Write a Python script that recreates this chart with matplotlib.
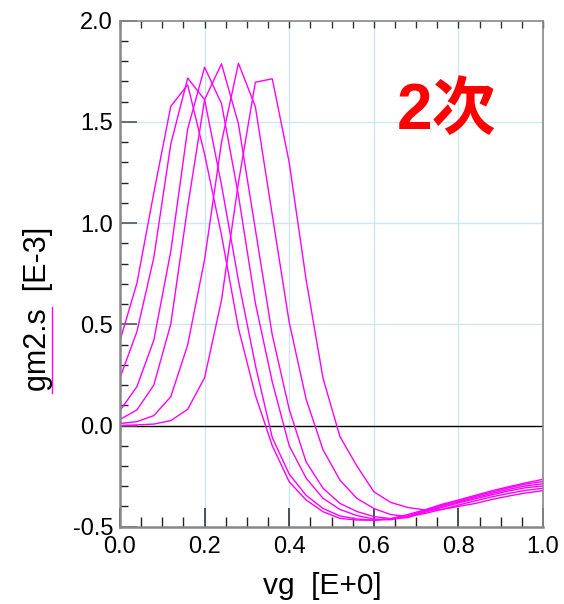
import matplotlib
matplotlib.use("Agg")
import matplotlib.pyplot as plt
from matplotlib.ticker import MultipleLocator
import numpy as np

# x grid of the simulation (vg)
vg = [0.00, 0.04, 0.08, 0.12, 0.16, 0.20, 0.24, 0.28, 0.32, 0.36, 0.40, 0.44, 0.48,
      0.52, 0.56, 0.60, 0.64, 0.68, 0.72, 0.76, 0.80, 0.84, 0.88, 0.92, 0.96, 1.00]

curve_a = [0.42, 0.703, 1.15, 1.577, 1.683, 1.34, 0.94, 0.48, 0.15, -0.10, -0.278, -0.368, -0.426,
           -0.459, -0.467, -0.468, -0.46, -0.44, -0.417, -0.39, -0.368, -0.345, -0.322, -0.302, -0.283, -0.266]
curve_b = [0.236, 0.464, 0.83, 1.39, 1.716, 1.61, 1.188, 0.716, 0.298, -0.06, -0.24, -0.345, -0.41,
           -0.447, -0.462, -0.468, -0.464, -0.447, -0.42, -0.395, -0.373, -0.35, -0.328, -0.307, -0.289, -0.277]
curve_c = [0.074, 0.192, 0.422, 0.86, 1.465, 1.77, 1.59, 1.137, 0.605, 0.215, -0.10, -0.26, -0.36,
           -0.415, -0.445, -0.462, -0.465, -0.452, -0.425, -0.40, -0.378, -0.356, -0.335, -0.315, -0.298, -0.288]
curve_d = [0.03, 0.077, 0.20, 0.501, 1.08, 1.61, 1.787, 1.49, 0.969, 0.447, 0.08, -0.18, -0.31,
           -0.385, -0.425, -0.45, -0.46, -0.455, -0.43, -0.405, -0.383, -0.362, -0.342, -0.323, -0.307, -0.299]
curve_e = [0.01, 0.019, 0.049, 0.142, 0.398, 0.82, 1.40, 1.79, 1.575, 1.04, 0.51, 0.13, -0.12,
           -0.27, -0.36, -0.41, -0.44, -0.45, -0.435, -0.415, -0.393, -0.372, -0.352, -0.335, -0.32, -0.31]
curve_f = [0.0, 0.003, 0.007, 0.024, 0.08, 0.236, 0.62, 1.20, 1.696, 1.713, 1.30, 0.72, 0.233,
           -0.055, -0.20, -0.327, -0.38, -0.405, -0.417, -0.415, -0.40, -0.385, -0.365, -0.348, -0.333, -0.322]
curves = [curve_a, curve_b, curve_c, curve_d, curve_e, curve_f]

x_ticks = [0.0, 0.2, 0.4, 0.6, 0.8, 1.0]
x_ticklabels = ["0.0", "0.2", "0.4", "0.6", "0.8", "1.0"]
y_ticks = [-0.5, 0.0, 0.5, 1.0, 1.5, 2.0]
y_ticklabels = ["-0.5", "0.0", "0.5", "1.0", "1.5", "2.0"]

W, H = 564, 604
fig = plt.figure(figsize=(W / 100, H / 100), dpi=100)
ax = fig.add_axes([120 / W, 1 - 526.7 / H, (543 - 120) / W, (526.7 - 20.7) / H])

font = ["Liberation Sans", "DejaVu Sans"]

for xv in [0.2, 0.4, 0.6, 0.8]:
    ax.axvline(xv, color="#cde6f7", lw=1.0, zorder=0)
for yv in [0.5, 1.0, 1.5]:
    ax.axhline(yv, color="#cde6f7", lw=1.0, zorder=0)
ax.axhline(0.0, color="black", lw=1.0, zorder=1)

for c in curves:
    ax.plot(vg, c, color="#ff00ff", lw=1.0, zorder=2)

ax.set_xlim(0, 1.0)
ax.set_ylim(-0.5, 2.0)
ax.set_xticks(x_ticks)
ax.set_xticklabels(x_ticklabels, family=font, fontsize=17)
ax.set_yticks(y_ticks)
ax.set_yticklabels(y_ticklabels, family=font, fontsize=17)
ax.xaxis.set_minor_locator(MultipleLocator(0.05))
ax.yaxis.set_minor_locator(MultipleLocator(0.1))
ax.tick_params(axis="x", which="major", direction="in", length=14, width=1.2, color="#333333", pad=7)
ax.tick_params(axis="x", which="minor", direction="in", length=7, width=1.0, color="#222222")
ax.tick_params(axis="y", which="major", direction="in", length=12, width=1.2, color="#555555", pad=5)
ax.tick_params(axis="y", which="minor", direction="in", length=6, width=1.0, color="#222222")

for s in ["left", "bottom"]:
    ax.spines[s].set_color("#888888")
    ax.spines[s].set_linewidth(1.8)
for s in ["top", "right"]:
    ax.spines[s].set_color("#888888")
    ax.spines[s].set_linewidth(1.2)

top = ax.secondary_xaxis("top")
top.set_xticks(x_ticks)
top.set_xticklabels([])
top.xaxis.set_minor_locator(MultipleLocator(0.05))
top.tick_params(which="both", direction="in", length=5, width=1.0, color="#333333")
top.spines["top"].set_visible(False)

fig.text(322 / W, 1 - 586 / H, "vg  [E+0]", family=font, fontsize=21.5, ha="center", va="center")
fig.text(38 / W, 1 - 308.5 / H, "gm2.s  [E-3]", family=font, fontsize=22, rotation=90,
         ha="center", va="center")
fig.add_artist(plt.Line2D([52 / W, 52 / W], [1 - 393 / H, 1 - 307 / H], color="#ff00ff", lw=1.0))

fig.text(446 / W, 1 - 112 / H, "2次", family=["Liberation Sans", "Noto Sans CJK JP"],
         fontsize=46, fontweight="bold", color="#ff0000", ha="center", va="center")

fig.savefig("out.png", dpi=100)
